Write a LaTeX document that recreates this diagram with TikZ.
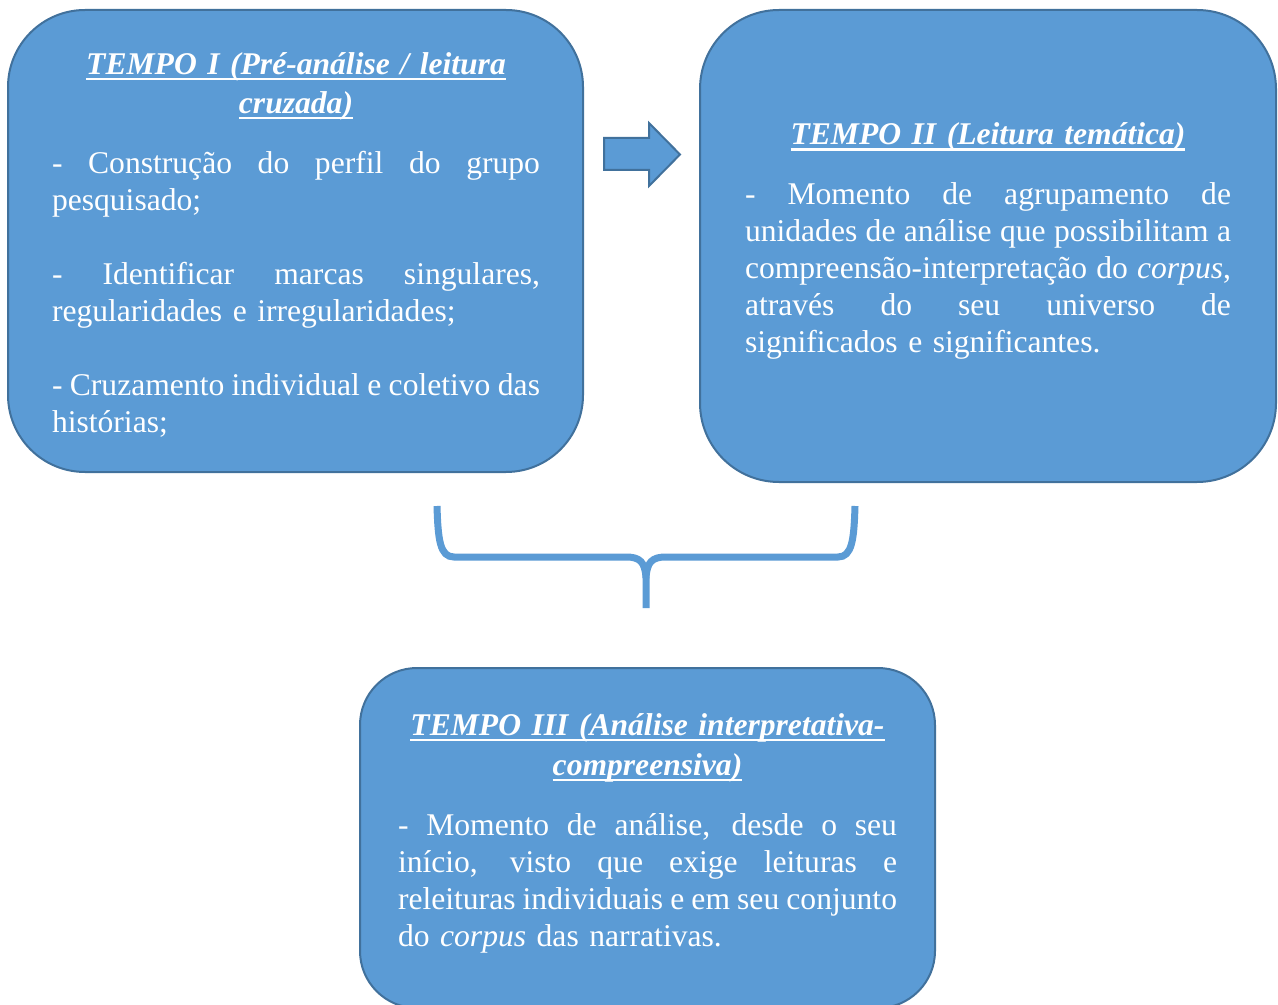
\documentclass[tikz,border=0pt]{standalone}
\usepackage{fontspec}
\setmainfont{Liberation Serif}
\definecolor{boxfill}{HTML}{5B9BD5}
\definecolor{boxline}{HTML}{41719C}
\newcommand\myul[1]{\leavevmode\setbox0\hbox{#1}\rlap{\rule[-4.6pt]{\wd0}{1.8pt}}\box0}
\newcommand\jline[1]{\leavevmode\hbox to\linewidth{\spaceskip=0.1em plus 1fil\relax #1}}
\newcommand\lline[1]{\makebox[\linewidth][l]{#1}}
\tikzset{
  box/.style={draw=boxline, line width=1.5pt, fill=boxfill, rectangle, inner sep=0pt},
  txt/.style={text=white, inner sep=0pt, anchor=north, align=center,
              font=\fontsize{23.7}{27.75}\selectfont},
  brace/.style={draw=boxfill, line width=5.25pt},
  blockarrow/.style={draw=boxline, fill=boxfill, line width=1.5pt, line join=miter}
}
\begin{document}
\begin{tikzpicture}[x=0.75pt,y=-0.75pt]
\useasboundingbox (0,0) rectangle (1278,1005);
\clip (0,0) rectangle (1278,1005);
\fill[white] (0,0) rectangle (1278,1005);

% boxes
\node[box, minimum width=431.25pt, minimum height=346.5pt, rounded corners=57.75pt] (b1) at (295.5,241) {};
\node[box, minimum width=432pt, minimum height=354pt, rounded corners=59.25pt] (b2) at (988,246) {};
\node[box, minimum width=431.25pt, minimum height=255pt, rounded corners=42.75pt] (b3) at (647.5,838) {};

% texts
\node[txt, text width=366pt] (t1) at (296,48.1) {%
\leavevmode{\strut\bfseries\itshape\myul{TEMPO I (Pré-análise / leitura}}\\[1.5pt]
\leavevmode{\bfseries\itshape\myul{cruzada)}}\\[17.25pt]
\jline{- Construção do perfil do grupo}\\
\lline{pesquisado;}\\[27.75pt]
\jline{- Identificar marcas singulares,}\\
\lline{regularidades e irregularidades;}\\[27.75pt]
\jline{- Cruzamento individual e coletivo das}\\
\lline{histórias;}};

\node[txt, text width=364.5pt] (t2) at (988,118.4) {%
\leavevmode{\strut\bfseries\itshape\myul{TEMPO II (Leitura temática)}}\\[17.25pt]
\jline{- Momento de agrupamento de}\\
\jline{unidades de análise que possibilitam a}\\
\jline{compreensão-interpretação do \textit{corpus},}\\
\jline{através do seu universo de}\\
\lline{significados e significantes.}};

\node[txt, text width=374.25pt] (t3) at (647.5,709.1) {%
\leavevmode{\strut\bfseries\itshape\myul{TEMPO III (Análise interpretativa-}}\\[2.25pt]
\leavevmode{\bfseries\itshape\myul{compreensiva)}}\\[17.25pt]
\jline{- Momento de análise, desde o seu}\\
\jline{início, visto que exige leituras e}\\
\jline{releituras individuais e em seu conjunto}\\
\lline{do \textit{corpus} das narrativas.}};

% block arrow between box 1 and box 2
\draw[blockarrow] (604,138) -- (649,138) -- (649,123) -- (680,154.5) -- (649,186) -- (649,170) -- (604,170) -- cycle;

% brace
\coordinate (bl) at (437,506);
\coordinate (br) at (855,506);
\coordinate (bs) at (646,608);
\draw[brace] (bl) .. controls (438,540) and (440,557) .. (454,557) -- (626,557)
  .. controls (640,557) and (645,562) .. (646,578) -- (bs);
\draw[brace] (br) .. controls (854,540) and (852,557) .. (838,557) -- (666,557)
  .. controls (652,557) and (647,562) .. (646,578);
\end{tikzpicture}
\end{document}
